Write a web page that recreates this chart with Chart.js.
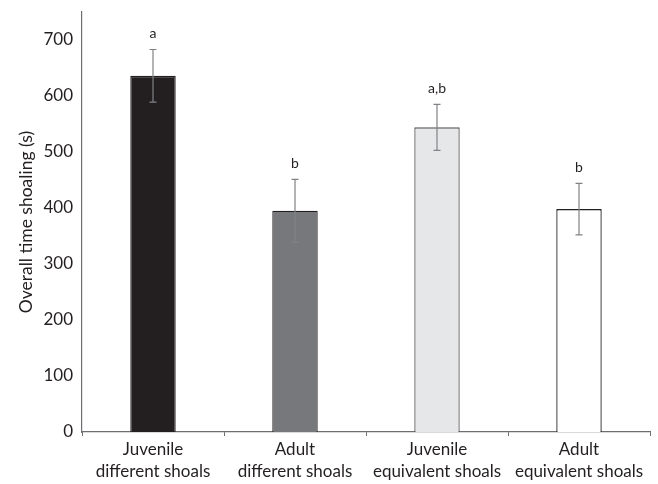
<!DOCTYPE html>
<html>
<head>
<meta charset="utf-8">
<script src="https://cdn.jsdelivr.net/npm/chart.js@4/dist/chart.umd.min.js"></script>
<style>
  html, body { margin: 0; padding: 0; background: #ffffff; }
  #wrap { width: 658px; height: 484px; }
</style>
</head>
<body>
<div id="wrap"><canvas id="c" width="658" height="484"></canvas></div>
<script>
// Groups, mean shoaling time, error (±) and significance letters
const categories = [
  ["Juvenile", "different shoals"],
  ["Adult", "different shoals"],
  ["Juvenile", "equivalent shoals"],
  ["Adult", "equivalent shoals"]
];
const meanTime = [636, 395, 544, 398];
const errorBar = [47, 56, 41, 46];
const sigLetters = ["a", "b", "a,b", "b"];
const yTicks = [0, 100, 200, 300, 400, 500, 600, 700];

const fillColors = ["#231f20", "#77787b", "#e6e7e8", "#ffffff"];
const edgeColors = ["#231f20", "#231f20", "#58595b", "#231f20"];
const FONT = "Lato, 'Liberation Sans', sans-serif";

// Draws error whiskers and letters above each bar
const errorPlugin = {
  id: "errorBars",
  afterDatasetsDraw(chart) {
    const ctx = chart.ctx;
    const y = chart.scales.y;
    const meta = chart.getDatasetMeta(0);
    ctx.save();
    meta.data.forEach((bar, i) => {
      const x = bar.x;
      const top = y.getPixelForValue(meanTime[i] + errorBar[i]);
      const bot = y.getPixelForValue(meanTime[i] - errorBar[i]);
      ctx.strokeStyle = "#808285";
      ctx.lineWidth = 1.2;
      ctx.beginPath();
      ctx.moveTo(x, top); ctx.lineTo(x, bot);
      ctx.moveTo(x - 3.5, top); ctx.lineTo(x + 3.5, top);
      ctx.moveTo(x - 3.5, bot); ctx.lineTo(x + 3.5, bot);
      ctx.stroke();
      ctx.fillStyle = "#231f20";
      ctx.font = "14px " + FONT;
      ctx.textAlign = "center";
      ctx.textBaseline = "middle";
      ctx.fillText(sigLetters[i], x, top - 16);
    });
    ctx.restore();
  }
};

new Chart(document.getElementById("c"), {
  type: "bar",
  data: {
    labels: categories,
    datasets: [{
      data: meanTime,
      backgroundColor: fillColors,
      borderColor: edgeColors,
      borderWidth: 1.3,
      categoryPercentage: 1,
      barPercentage: 0.32
    }]
  },
  options: {
    responsive: false,
    animation: false,
    events: [],
    layout: { padding: { top: 12, right: 8, left: 16, bottom: 0 } },
    plugins: { legend: { display: false }, tooltip: { enabled: false } },
    scales: {
      x: {
        offset: true,
        grid: { display: true, drawOnChartArea: false, drawTicks: true, tickLength: 4, color: "#6d6e71", offset: true },
        border: { display: true, color: "#6d6e71", width: 1.2 },
        ticks: { color: "#231f20", font: { family: FONT, size: 17, lineHeight: 1.3 }, padding: 2, maxRotation: 0, autoSkip: false },
        afterFit(scale) { scale.height = 52; }
      },
      y: {
        min: 0,
        max: 750,
        afterBuildTicks(scale) { scale.ticks = yTicks.map(v => ({ value: v })); },
        grid: { display: false, drawTicks: false },
        border: { display: true, color: "#6d6e71", width: 1.2 },
        ticks: { color: "#231f20", font: { family: FONT, size: 17 }, padding: 9 },
        title: { display: true, text: "Overall time shoaling (s)", color: "#231f20", font: { family: FONT, size: 17.5 }, padding: { top: 0, bottom: 0 } },
        afterFit(scale) {
          scale.width = 66;
          scale.paddingTop = 0;
          scale.paddingBottom = 0;
        }
      }
    }
  },
  plugins: [errorPlugin]
});
</script>
</body>
</html>
